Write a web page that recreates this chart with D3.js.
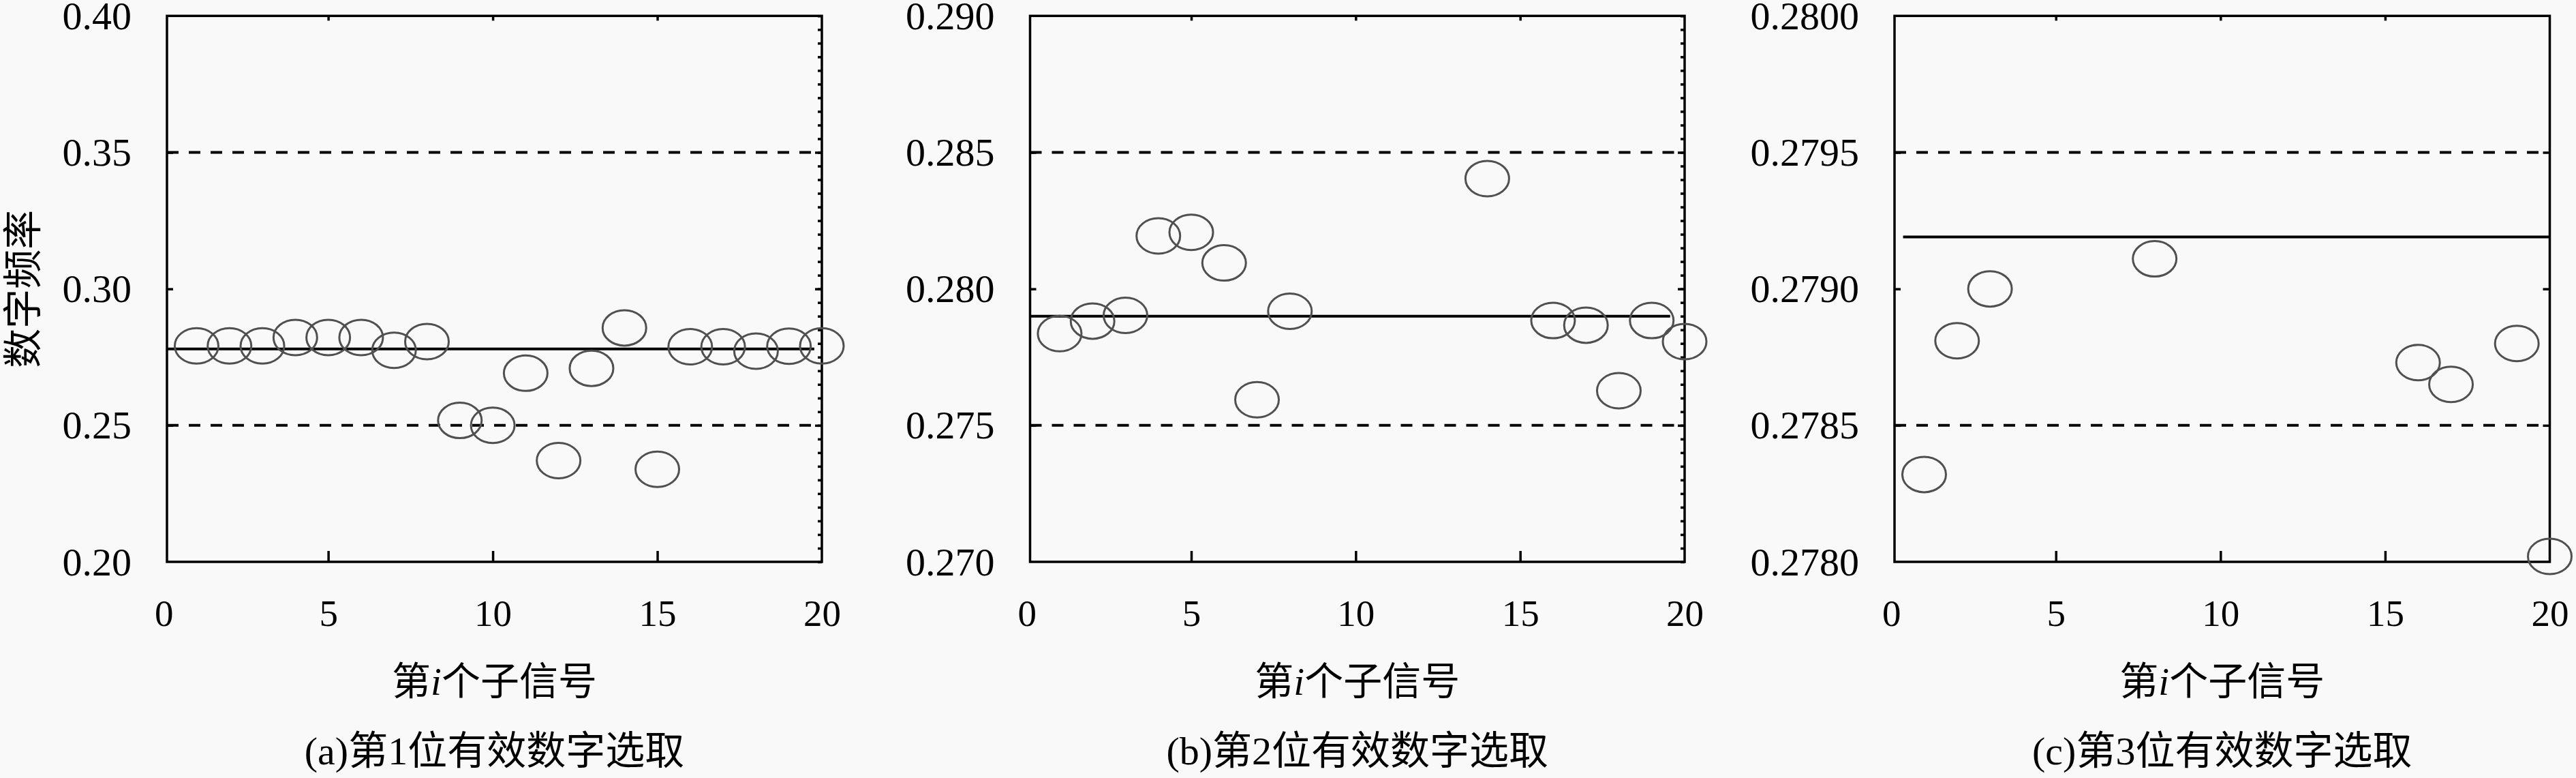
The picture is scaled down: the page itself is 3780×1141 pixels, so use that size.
<!DOCTYPE html>
<html>
<head>
<meta charset="utf-8">
<script src="https://cdn.jsdelivr.net/npm/d3@7"></script>
<style>
  html, body { margin: 0; padding: 0; background: #f9f9f9; }
  svg { display: block; }
</style>
</head>
<body>
<script>
// sub-signal index on the x axis
const subSignal = [1, 2, 3, 4, 5, 6, 7, 8, 9, 10, 11, 12, 13, 14, 15, 16, 17, 18, 19, 20]
const xTickLabels = [0, 5, 10, 15, 20]
const xTickMarks = [5, 10, 15]

// digit frequency (null = outside the plotted range)
const freqA = [0.2791, 0.2791, 0.2791, 0.2822, 0.2822, 0.2822, 0.2775, 0.2807, 0.2518, 0.2500,
  0.2691, 0.2371, 0.2709, 0.2857, 0.2339, 0.2788, 0.2788, 0.2772, 0.2790, 0.2791]
const freqB = [0.27836, 0.27882, 0.27903, 0.28194, 0.28207, 0.28095, 0.27594, 0.27918, null, null,
  null, null, null, 0.28404, null, 0.27884, 0.27867, 0.27627, 0.27884, 0.27807]
const freqC = [0.27832, 0.27881, 0.27900, null, null, null, null, 0.27911, null, null,
  null, null, null, null, null, 0.27873, 0.27865, null, 0.27880, 0.27802]

// y ticks
const yTicksA = [0.20, 0.25, 0.30, 0.35, 0.40]
const yTicksB = [0.270, 0.275, 0.280, 0.285, 0.290]
const yTicksC = [0.2780, 0.2785, 0.2790, 0.2795, 0.2800]

// reference lines: mean (solid) and limits (dashed)
const meanA = 0.278, limitsA = [0.25, 0.35]
const meanB = 0.279, limitsB = [0.275, 0.285]
const meanC = 0.27919, limitsC = [0.2785, 0.2795]
const meanSpanA = [0.1, 19.77], meanSpanB = [0.1, 19.56], meanSpanC = [0.36, 20]

const captions = ['第1位有效数字选取', '第2位有效数字选取', '第3位有效数字选取']
const captionTags = ['(a)', '(b)', '(c)']
const captionDigits = ['1', '2', '3']

let width = 3780
let height = 1141
let plotTop = 23.3, plotBottom = 824

const serif = '"Liberation Serif", "DejaVu Serif", serif'
const cjk = '"Noto Sans CJK SC", "Noto Sans", sans-serif'

const panels = [
  { left: 245, right: 1206, values: freqA, yTicks: yTicksA, fmt: '.2f', mean: meanA, limits: limitsA, span: meanSpanA, minor: 0.005 },
  { left: 1511.5, right: 2472, values: freqB, yTicks: yTicksB, fmt: '.3f', mean: meanB, limits: limitsB, span: meanSpanB, minor: 0.0005 },
  { left: 2780, right: 3741.5, values: freqC, yTicks: yTicksC, fmt: '.4f', mean: meanC, limits: limitsC, span: meanSpanC, minor: null }
]

const svg = d3.select('body')
  .append('svg')
  .attr('width', width)
  .attr('height', height)

svg.append('rect').attr('width', width).attr('height', height).attr('fill', '#f9f9f9')

panels.forEach((p, idx) => {
  const x = d3.scaleLinear().domain([0.1, 20]).range([p.left, p.right])
  const y = d3.scaleLinear().domain([p.yTicks[0], p.yTicks[p.yTicks.length - 1]]).range([plotBottom, plotTop])
  const g = svg.append('g')

  // dashed limit lines
  g.selectAll('.limit')
    .data(p.limits)
    .join('line')
    .attr('class', 'limit')
    .attr('x1', x(0.1)).attr('x2', x(20))
    .attr('y1', d => y(d)).attr('y2', d => y(d))
    .attr('stroke', '#000')
    .attr('stroke-width', 4)
    .attr('stroke-dasharray', '17 15')

  // mean line
  g.append('line')
    .attr('x1', x(p.span[0])).attr('x2', x(p.span[1]))
    .attr('y1', y(p.mean)).attr('y2', y(p.mean))
    .attr('stroke', '#000')
    .attr('stroke-width', 4)

  // inward tick marks
  const tickAxis = (axis, transform) => {
    const a = g.append('g').attr('transform', transform).call(axis)
    a.select('.domain').remove()
    a.selectAll('line').attr('stroke', '#000').attr('stroke-width', 3.5)
    a.selectAll('text').remove()
  }
  tickAxis(d3.axisBottom(x).tickValues(xTickMarks).tickSize(-16), `translate(0,${plotBottom})`)
  tickAxis(d3.axisTop(x).tickValues(xTickMarks).tickSize(-7), `translate(0,${plotTop})`)
  tickAxis(d3.axisLeft(y).tickValues(p.yTicks.slice(1, -1)).tickSize(-9), `translate(${p.left},0)`)
  tickAxis(d3.axisRight(y).tickValues(p.yTicks.slice(1, -1)).tickSize(-10), `translate(${p.right},0)`)
  if (p.minor) {
    const minors = d3.range(p.yTicks[0], p.yTicks[4] + p.minor / 2, p.minor)
    tickAxis(d3.axisRight(y).tickValues(minors).tickSize(-6), `translate(${p.right},0)`)
  }

  // frame
  g.append('rect')
    .attr('x', p.left).attr('y', plotTop)
    .attr('width', p.right - p.left).attr('height', plotBottom - plotTop)
    .attr('fill', 'none')
    .attr('stroke', '#000')
    .attr('stroke-width', 3.5)

  // x tick labels
  const xl = g.append('g').attr('transform', `translate(0,${plotBottom})`)
    .call(d3.axisBottom(x).tickValues(xTickLabels).tickSize(0).tickPadding(55).tickFormat(d3.format('d')))
  xl.select('.domain').remove()
  xl.selectAll('text').attr('font-family', serif).attr('font-size', 55).attr('fill', '#000')

  // y tick labels
  const yl = g.append('g').attr('transform', `translate(${p.left},0)`)
    .call(d3.axisLeft(y).tickValues(p.yTicks).tickSize(0).tickPadding(52).tickFormat(d3.format(p.fmt)))
  yl.select('.domain').remove()
  yl.selectAll('text').attr('font-family', serif).attr('font-size', 58).attr('fill', '#000').attr('dy', '0.33em')

  // points
  g.selectAll('.pt')
    .data(subSignal.map((s, i) => ({ s, v: p.values[i] })).filter(d => d.v !== null))
    .join('ellipse')
    .attr('class', 'pt')
    .attr('cx', d => x(d.s))
    .attr('cy', d => y(d.v))
    .attr('rx', 32)
    .attr('ry', 26)
    .attr('fill', 'none')
    .attr('stroke', '#505050')
    .attr('stroke-width', 3)

  const cx = (p.left + p.right) / 2

  // x axis title
  const xt = g.append('text')
    .attr('x', cx).attr('y', 1019)
    .attr('text-anchor', 'middle')
    .attr('font-family', cjk).attr('font-size', 57).attr('fill', '#000')
  xt.append('tspan').text('第')
  xt.append('tspan').attr('font-family', serif).attr('font-style', 'italic').text('i')
  xt.append('tspan').text('个子信号')

  // caption
  const cap = g.append('text')
    .attr('x', cx).attr('y', 1121)
    .attr('text-anchor', 'middle')
    .attr('font-family', cjk).attr('font-size', 58).attr('fill', '#000')
  cap.append('tspan').attr('font-family', serif).text(captionTags[idx])
  cap.append('tspan').text(captions[idx].slice(0, 1))
  cap.append('tspan').attr('font-family', serif).text(captionDigits[idx])
  cap.append('tspan').text(captions[idx].slice(2))
})

// y axis title (only on the first panel)
svg.append('text')
  .attr('transform', `translate(54,${(plotTop + plotBottom) / 2}) rotate(-90)`)
  .attr('text-anchor', 'middle')
  .attr('font-family', cjk).attr('font-size', 58).attr('fill', '#000')
  .text('数字频率')
</script>
</body>
</html>
